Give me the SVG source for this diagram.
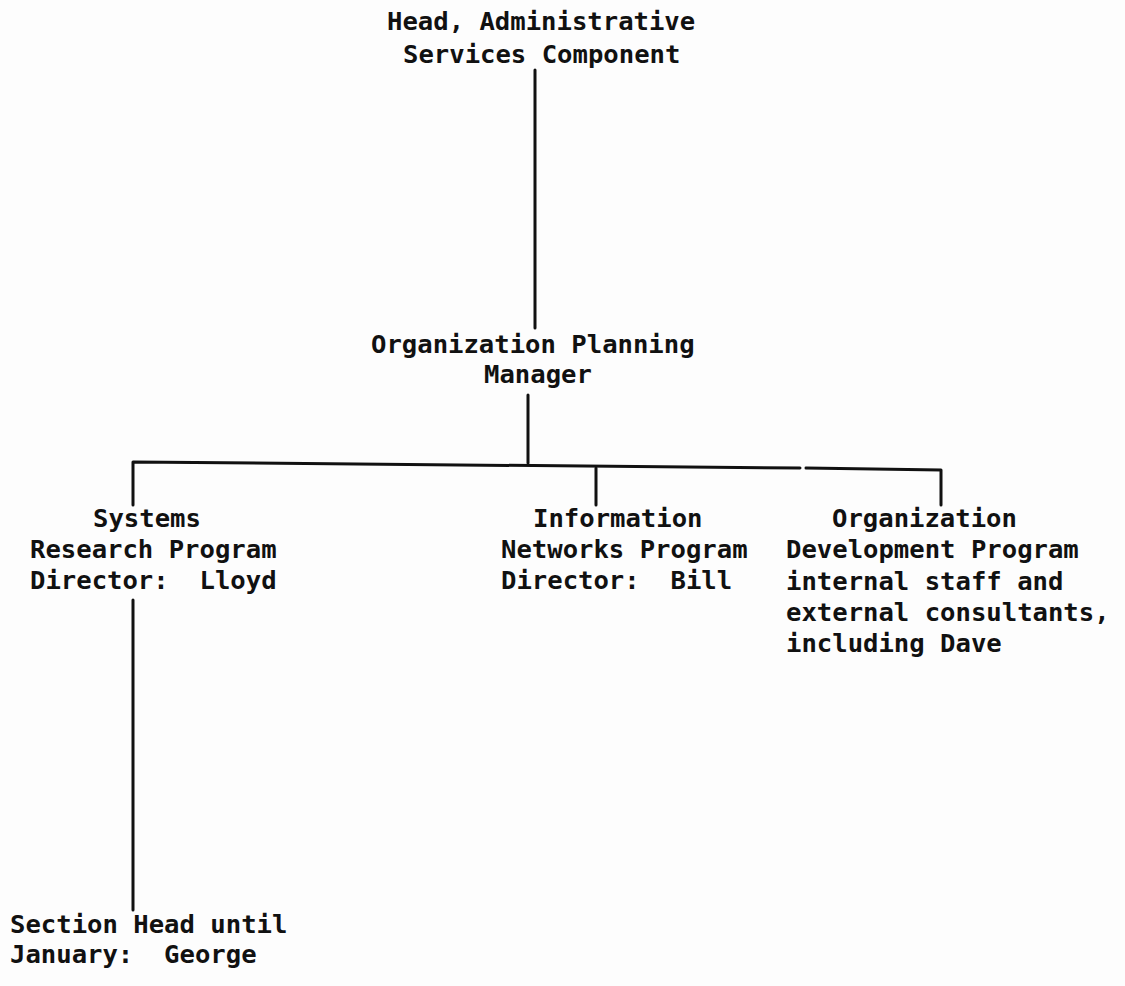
<svg xmlns="http://www.w3.org/2000/svg" width="1125" height="986" viewBox="0 0 1125 986">
<style>
text{font-family:"DejaVu Sans Mono","Liberation Mono",monospace;font-weight:bold;font-size:25.6px;fill:#111;white-space:pre}
.ln{stroke:#111;stroke-width:3;fill:none;stroke-linecap:round;stroke-linejoin:round}
</style>
<rect width="1125" height="986" fill="#fdfdfd"/>
<g id="connectors">
<path class="ln" d="M535 70 L535 328"/>
<path class="ln" d="M528 395 L528 463"/>
<path class="ln" d="M133 505 L133 462 L800 468"/>
<path class="ln" d="M806 468 L941 470 L941 505"/>
<path class="ln" d="M596 468 L596 505"/>
<path class="ln" d="M133 600 L133 910"/>
</g>
<g id="head">
<text x="387" y="30">Head, Administrative</text>
<text x="403" y="63">Services Component</text>
</g>
<g id="opm">
<text x="371" y="353">Organization Planning</text>
<text x="484" y="383">Manager</text>
</g>
<g id="srp">
<text x="93" y="527">Systems</text>
<text x="30" y="558">Research Program</text>
<text x="30" y="589">Director:  Lloyd</text>
</g>
<g id="inp">
<text x="533" y="527">Information</text>
<text x="501" y="558">Networks Program</text>
<text x="501" y="589">Director:  Bill</text>
</g>
<g id="odp">
<text x="832" y="527">Organization</text>
<text x="786" y="558">Development Program</text>
<text x="786" y="590">internal staff and</text>
<text x="786" y="621">external consultants,</text>
<text x="786" y="652">including Dave</text>
</g>
<g id="section">
<text x="10" y="933">Section Head until</text>
<text x="10" y="963">January:  George</text>
</g>
</svg>
